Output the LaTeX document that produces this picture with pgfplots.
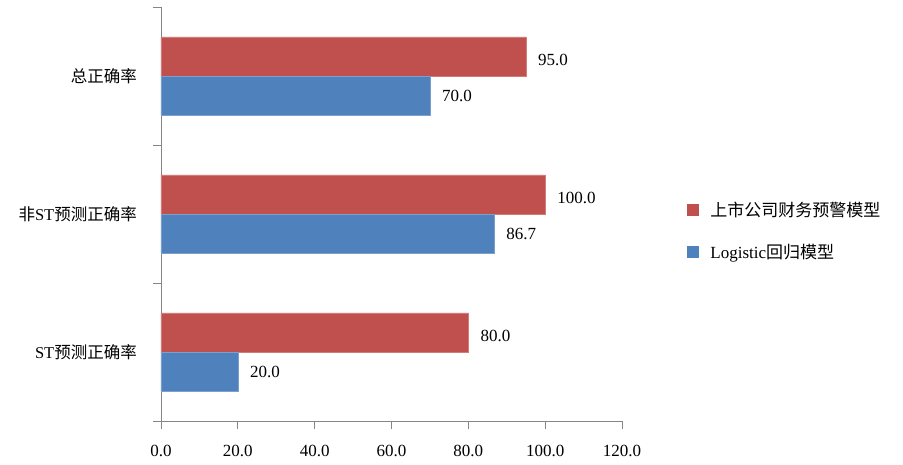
\documentclass[border=0pt]{standalone}
\usepackage{pgfplots}
\pgfplotsset{compat=1.18}
\usepackage{fontspec}
\setmainfont{Liberation Serif}
\newfontfamily\cjk{Noto Sans CJK SC}
\definecolor{cred}{HTML}{C0504D}
\definecolor{cblue}{HTML}{4F81BD}
\definecolor{axgray}{HTML}{868686}
\begin{document}
\begin{tikzpicture}
\useasboundingbox (-161pt,-43pt) rectangle (742pt,421pt);
\begin{axis}[
  at={(0,0)}, anchor=south west,
  scale only axis, width=461pt, height=414pt,
  xmin=0, xmax=120, ymin=-0.5, ymax=2.5,
  axis x line*=bottom, axis y line*=left,
  axis line style={axgray, line width=0.8pt},
  tick align=outside,
  xtick={0,20,...,120},
  x tick style={axgray, line width=0.8pt},
  major tick length=8pt,
  ytick={0,1,2},
  yticklabels={ST{\cjk 预测正确率}, {\cjk 非}ST{\cjk 预测正确率}, {\cjk 总正确率}},
  major y tick style={draw=none},
  minor ytick={-0.5,0.5,1.5,2.5},
  minor y tick style={axgray, line width=0.8pt},
  minor tick length=8pt,
  /pgf/number format/assume math mode=true,
  xticklabel={\pgfmathprintnumber[fixed,fixed zerofill,precision=1]{\tick}},
  tick label style={font=\fontsize{17}{19}\selectfont},
  yticklabel style={inner sep=0pt, xshift=-16pt, font=\fontsize{16.5}{19}\selectfont},
  xticklabel style={inner sep=0pt, yshift=-16pt},
  nodes near coords={\pgfmathprintnumber[fixed,fixed zerofill,precision=1]{\pgfplotspointmeta}},
  point meta=x,
  legend style={at={(rel axis cs:1.141,0.459)}, anchor=west, draw=none, fill=none,
    font=\fontsize{17}{19}\selectfont, row sep=26pt, inner sep=0pt,
    nodes={inner sep=0pt, anchor=west}},
  legend cell align=left,
  legend image code/.code={\fill[#1, draw=none] (0pt,-6pt) rectangle (12pt,6pt); \path (23pt,0pt);},
]
\addplot[xbar, bar width=0.283, bar shift=0.1415, fill=cred, draw=cred!75!white, line width=0.4pt,
  nodes near coords style={anchor=west, inner sep=0pt, xshift=12pt, yshift=16pt, text=black, font=\fontsize{17}{19}\selectfont, /pgf/number format/assume math mode=true}]
  coordinates {(80,0) (100,1) (95,2)};
\addplot[xbar, bar width=0.283, bar shift=-0.1415, fill=cblue, draw=cblue!75!white, line width=0.4pt,
  nodes near coords style={anchor=west, inner sep=0pt, xshift=12pt, yshift=-19.5pt, text=black, font=\fontsize{17}{19}\selectfont, /pgf/number format/assume math mode=true}]
  coordinates {(20,0) (86.7,1) (70,2)};
\legend{{\cjk 上市公司财务预警模型}, Logistic{\cjk 回归模型}}
\end{axis}
\end{tikzpicture}
\end{document}
